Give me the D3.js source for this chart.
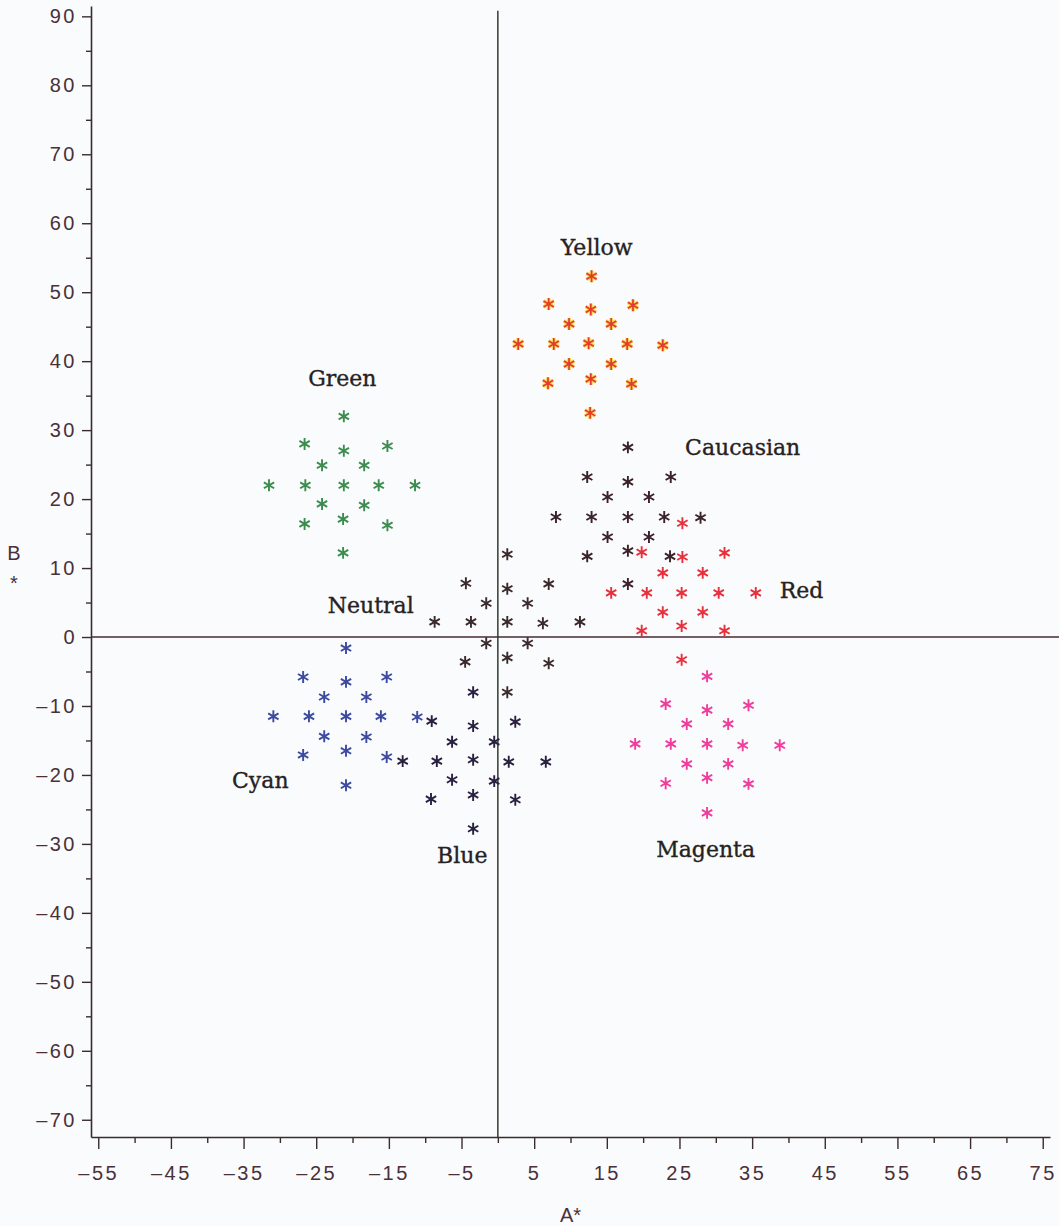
<!DOCTYPE html>
<html>
<head>
<meta charset="utf-8">
<script src="https://cdn.jsdelivr.net/npm/d3@7"></script>
<style>
  body { margin: 0; background: #fafbfd; }
  .tick text { font-family: "Liberation Sans", Arial, sans-serif; font-size: 20px; fill: #4a3038; letter-spacing: 2.5px; }
  .tick line { stroke: #3b2b2e; stroke-width: 1.4; }
  .domain { stroke: #3b2b2e; stroke-width: 1.6; }
  .cluster-label { font-family: "DejaVu Serif", serif; font-size: 22px; fill: #262222; stroke: #262222; stroke-width: 0.35; }
  .axis-label { font-family: "Liberation Sans", Arial, sans-serif; font-size: 20px; fill: #4a3038; }
</style>
</head>
<body>
<div class="canvas"></div>
<script>
// cluster points, [A*, B*]
const green = [[-21.2,32.0],[-26.6,28.0],[-15.2,27.7],[-21.2,27.0],[-24.2,24.9],[-18.4,24.9],
  [-31.5,22.0],[-26.5,22.0],[-21.2,22.0],[-16.4,22.0],[-11.4,22.0],[-24.2,19.3],[-18.4,19.1],
  [-26.6,16.4],[-15.2,16.2],[-21.3,17.1],[-21.3,12.2]]
const yellow = [[12.9,52.3],[7.0,48.3],[18.6,48.1],[12.8,47.5],[9.8,45.4],[15.6,45.4],
  [2.8,42.5],[7.7,42.5],[12.5,42.6],[17.8,42.5],[22.7,42.3],[9.8,39.6],[15.6,39.6],
  [6.9,36.8],[12.8,37.4],[18.4,36.7],[12.7,32.5]]
const caucasian = [[17.9,27.5],[12.3,23.2],[17.9,22.5],[23.8,23.2],[15.1,20.3],[20.8,20.3],
  [8.0,17.4],[12.9,17.4],[17.9,17.4],[22.9,17.4],[27.9,17.3],[15.1,14.5],[20.8,14.5],
  [12.3,11.7],[17.9,12.5],[23.7,11.7],[17.9,7.7]]
const red = [[25.4,16.5],[19.8,12.3],[25.4,11.6],[31.2,12.2],[22.7,9.3],[28.2,9.3],
  [15.6,6.4],[20.5,6.4],[25.3,6.4],[30.4,6.4],[35.5,6.4],[22.7,3.6],[28.2,3.6],
  [19.8,0.9],[25.3,1.6],[31.2,0.9],[25.3,-3.3]]
const neutral = [[1.3,12.0],[-4.4,7.8],[7.0,7.7],[1.3,7.0],[-1.6,4.9],[4.1,4.9],
  [-8.7,2.2],[-3.7,2.2],[1.3,2.2],[6.2,2.0],[11.3,2.2],[-1.6,-0.9],[4.1,-0.9],
  [-4.5,-3.6],[7.0,-3.8],[1.3,-3.0],[1.3,-8.0]]
const blue = [[-3.4,-8.0],[-9.1,-12.2],[-3.4,-12.9],[2.4,-12.3],[-6.3,-15.2],[-0.5,-15.2],
  [-13.1,-18.0],[-8.4,-18.0],[-3.4,-17.8],[1.5,-18.1],[6.6,-18.1],[-6.3,-20.7],[-0.5,-20.9],
  [-9.2,-23.5],[-3.4,-22.9],[2.4,-23.6],[-3.4,-27.8]]
const cyan = [[-20.9,-1.6],[-26.8,-5.8],[-15.3,-5.8],[-20.9,-6.5],[-23.9,-8.7],[-18.1,-8.7],
  [-30.9,-11.5],[-26.0,-11.5],[-20.9,-11.5],[-16.1,-11.5],[-11.1,-11.6],[-23.9,-14.4],[-18.1,-14.5],
  [-26.8,-17.1],[-20.9,-16.5],[-15.3,-17.4],[-20.9,-21.5]]
const magenta = [[28.8,-5.7],[23.1,-9.7],[34.5,-9.9],[28.8,-10.6],[26.0,-12.6],[31.7,-12.6],
  [18.9,-15.5],[23.8,-15.5],[28.8,-15.5],[33.7,-15.7],[38.8,-15.7],[26.0,-18.4],[31.7,-18.4],
  [23.1,-21.2],[28.8,-20.4],[34.5,-21.3],[28.8,-25.5]]

// cluster names and where the name sits, in A*/B* units
const clusterNames = ["Yellow","Green","Caucasian","Red","Neutral","Cyan","Blue","Magenta"]
const nameA = [13.6,-21.4,33.7,41.8,-17.5,-32.7,-4.9,28.6]
const nameB = [56.2,37.2,27.2,6.5,4.3,-21.0,-31.9,-31.0]

const xTicks = d3.range(-55, 76, 10)
const yTicks = d3.range(-70, 91, 10)

const svg = d3.select(".canvas")
  .append("svg")
  .attr("width", 1059)
  .attr("height", 1226)

const xScale = d3.scaleLinear().domain([-56, 76]).range([91, 1050])
const yScale = d3.scaleLinear().domain([-72.5, 91.5]).range([1137, 6])

const dash = v => (v < 0 ? "\u2013" + Math.abs(v) : "" + v)

// minor ticks first
svg.append("g")
  .attr("transform", `translate(0, ${yScale(-72.5)})`)
  .call(d3.axisBottom(xScale).tickValues(xTicks.map(v => v + 5).filter(v => v < 76)).tickSize(6).tickFormat(""))
  .call(g => g.select(".domain").remove())
svg.append("g")
  .attr("transform", `translate(${xScale(-56)}, 0)`)
  .call(d3.axisLeft(yScale).tickValues(yTicks.map(v => v + 5).filter(v => v < 91)).tickSize(5).tickFormat(""))
  .call(g => g.select(".domain").remove())

// major axes
const xAxisGroup = svg.append("g")
  .attr("transform", `translate(0, ${yScale(-72.5)})`)
  .call(d3.axisBottom(xScale).tickValues(xTicks).tickSize(12).tickPadding(17).tickSizeOuter(0).tickFormat(dash))
const yAxisGroup = svg.append("g")
  .attr("transform", `translate(${xScale(-56)}, 0)`)
  .call(d3.axisLeft(yScale).tickValues(yTicks).tickSize(9).tickPadding(5).tickSizeOuter(0).tickFormat(dash))

// zero lines
svg.append("line")
  .attr("x1", xScale(-56)).attr("x2", 1059)
  .attr("y1", yScale(0)).attr("y2", yScale(0))
  .attr("stroke", "#4a2b30").attr("stroke-width", 1.5)
svg.append("line")
  .attr("x1", xScale(0)).attr("x2", xScale(0))
  .attr("y1", yScale(90.8)).attr("y2", yScale(-72.5))
  .attr("stroke", "#2f3d2f").attr("stroke-width", 1.5)

// axis titles
svg.append("text").attr("class", "axis-label")
  .attr("x", xScale(10)).attr("y", 1222).attr("text-anchor", "middle").text("A*")
svg.append("text").attr("class", "axis-label")
  .attr("x", 14).attr("y", 560).attr("text-anchor", "middle").text("B")
svg.append("text").attr("class", "axis-label")
  .attr("x", 14).attr("y", 590).attr("text-anchor", "middle").text("*")

// asterisk markers
const star = d3.symbol(d3.symbolAsterisk, 100)
const groups = [
  {pts: green, color: "#3d8c4f"},
  {pts: caucasian, color: "#3a2228"},
  {pts: red, color: "#e8303c"},
  {pts: neutral, color: "#3b2a2c"},
  {pts: blue, color: "#2a2040"},
  {pts: cyan, color: "#3c4aa0"},
  {pts: magenta, color: "#f03c9c"}
]

// yellow gets a pale yellow halo under a red-orange star
svg.append("g").selectAll("path")
  .data(yellow).enter().append("path")
  .attr("d", star)
  .attr("transform", d => `translate(${xScale(d[0])}, ${yScale(d[1])})`)
  .attr("fill", "none").attr("stroke", "#f9d75a").attr("stroke-width", 3.8)
svg.append("g").selectAll("path")
  .data(yellow).enter().append("path")
  .attr("d", star)
  .attr("transform", d => `translate(${xScale(d[0])}, ${yScale(d[1])})`)
  .attr("fill", "none").attr("stroke", "#e23c2a").attr("stroke-width", 1.7)

groups.forEach(grp => {
  svg.append("g").selectAll("path")
    .data(grp.pts).enter().append("path")
    .attr("d", star)
    .attr("transform", d => `translate(${xScale(d[0])}, ${yScale(d[1])})`)
    .attr("fill", "none")
    .attr("stroke", grp.color)
    .attr("stroke-width", 1.9)
})

// cluster names
svg.selectAll(".cluster-label")
  .data(clusterNames).enter().append("text")
  .attr("class", "cluster-label")
  .attr("x", (d, i) => xScale(nameA[i]))
  .attr("y", (d, i) => yScale(nameB[i]))
  .attr("text-anchor", "middle")
  .attr("dominant-baseline", "middle")
  .text(d => d)
</script>
</body>
</html>
